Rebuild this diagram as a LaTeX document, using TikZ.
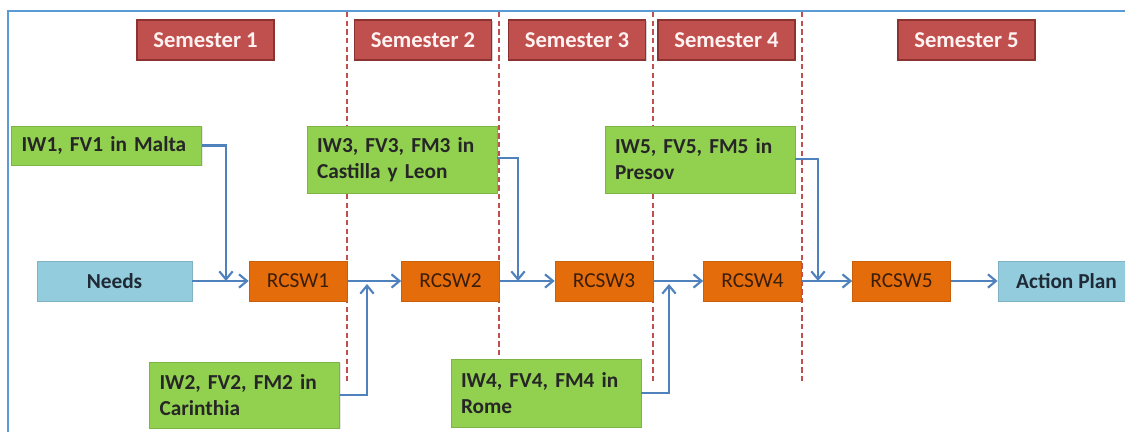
\documentclass[tikz,border=0pt]{standalone}
\usepackage{fontspec}
\setmainfont{Carlito}
\usetikzlibrary{arrows.meta,shadows}
\definecolor{semred}{HTML}{C0504D}
\definecolor{semdark}{HTML}{8C3230}
\definecolor{grn}{HTML}{92D050}
\definecolor{grndark}{HTML}{7DB544}
\definecolor{org}{HTML}{E46C0A}
\definecolor{orgdark}{HTML}{C95F08}
\definecolor{rtext}{HTML}{3A1E0A}
\definecolor{lblue}{HTML}{93CDDD}
\definecolor{lbluedark}{HTML}{7FB2C2}
\definecolor{btext}{HTML}{1F2A36}
\definecolor{arr}{HTML}{4F81BD}
\definecolor{framecol}{HTML}{5B9BD5}
\definecolor{dashred}{HTML}{C0504D}
\begin{document}
\begin{tikzpicture}[x=0.75pt,y=-0.75pt,
  sem/.style={font=\fontsize{17}{20}\selectfont\bfseries, fill=semred, draw=semdark, line width=1pt,
    text=white!95!red, minimum width=102.75pt, minimum height=30pt, inner sep=0pt,
    drop shadow={shadow xshift=1pt, shadow yshift=-1pt, opacity=0.35}},
  gbox/.style={font=\fontsize{16}{19.5}\selectfont\bfseries, fill=grn, draw=grndark, line width=0.5pt,
    text=black!85, align=left, text width=127.5pt, inner xsep=7.5pt, inner ysep=0pt,
    drop shadow={shadow xshift=1pt, shadow yshift=-1pt, opacity=0.2}},
  rbox/.style={font=\fontsize{16}{19.5}\selectfont, fill=org, draw=orgdark, line width=0.5pt,
    text=rtext, minimum width=73.5pt, minimum height=30pt, inner sep=0pt},
  bbox/.style={font=\fontsize{16}{19.5}\selectfont\bfseries, fill=lblue, draw=lbluedark, line width=0.6pt,
    text=btext, minimum height=30pt, inner sep=0pt,
    drop shadow={shadow xshift=1pt, shadow yshift=-1pt, opacity=0.15}},
  conn/.style={draw=arr, line width=2pt, -{Straight Barb[length=6pt,width=10pt,line width=1.6pt]}},
  dline/.style={draw=dashred, line width=1.1pt, dash pattern=on 4pt off 2.5pt}
]
\useasboundingbox (0,0) rectangle (1125,432);
\clip (0,0) rectangle (1125,432);

% frame
\draw[framecol, line width=1.8pt] (8,432) -- (8,11) -- (1125,11);

% dashed semester separators
\draw[dline] (347,12) -- (347,382);
\draw[dline] (499,12) -- (499,355);
\draw[dline] (653,12) -- (653,382);
\draw[dline] (802,12) -- (802,383);

% semester headers
\node[sem] (s1) at (205.5,40) {Semester 1};
\node[sem] (s2) at (423,40) {Semester 2};
\node[sem] (s3) at (577,40) {Semester 3};
\node[sem] (s4) at (726.5,40) {Semester 4};
\node[sem] (s5) at (966.5,40) {Semester 5};

% green input boxes
\node[gbox, minimum height=29.25pt] (iw1) at (106.5,145.5) {IW1, FV1 in Malta};
\node[gbox, minimum height=50.25pt] (iw3) at (402,159.5) {IW3, FV3, FM3 in\\Castilla y Leon};
\node[gbox, minimum height=50.25pt] (iw5) at (700,159.5) {IW5, FV5, FM5 in\\Presov};
\node[gbox, minimum height=49.5pt] (iw2) at (244.5,395) {IW2, FV2, FM2 in\\Carinthia};
\node[gbox, minimum height=51pt] (iw4) at (546,393) {IW4, FV4, FM4 in\\Rome};

% main row
\node[bbox, minimum width=116.25pt] (needs) at (114.5,281) {Needs};
\node[rbox] (r1) at (298,281) {RCSW1};
\node[rbox] (r2) at (450.5,281) {RCSW2};
\node[rbox] (r3) at (604,281) {RCSW3};
\node[rbox] (r4) at (752.5,281) {RCSW4};
\node[rbox] (r5) at (901.5,281) {RCSW5};
\node[bbox, minimum width=102.75pt] (ap) at (1066.5,281) {Action Plan};

% junction points on the main line
\coordinate (j1) at (226,281);
\coordinate (j2) at (367,284);
\coordinate (j3) at (518,281);
\coordinate (j4) at (669,284);
\coordinate (j5) at (818,281);

% main flow
\draw[conn] (needs) -- (r1);
\draw[conn] (r1) -- (r2);
\draw[conn] (r2) -- (r3);
\draw[conn] (r3) -- (r4);
\draw[conn] (r4) -- (r5);
\draw[conn] (r5) -- (ap);

% inputs
\draw[conn] (iw1.east) -| (j1);
\draw[conn] (iw3.east |- 0,158) -| (j3);
\draw[conn] (iw5.east |- 0,159) -| (j5);
\draw[conn] (iw2.east) -| (j2);
\draw[conn] (iw4.east) -| (j4);
\end{tikzpicture}
\end{document}
